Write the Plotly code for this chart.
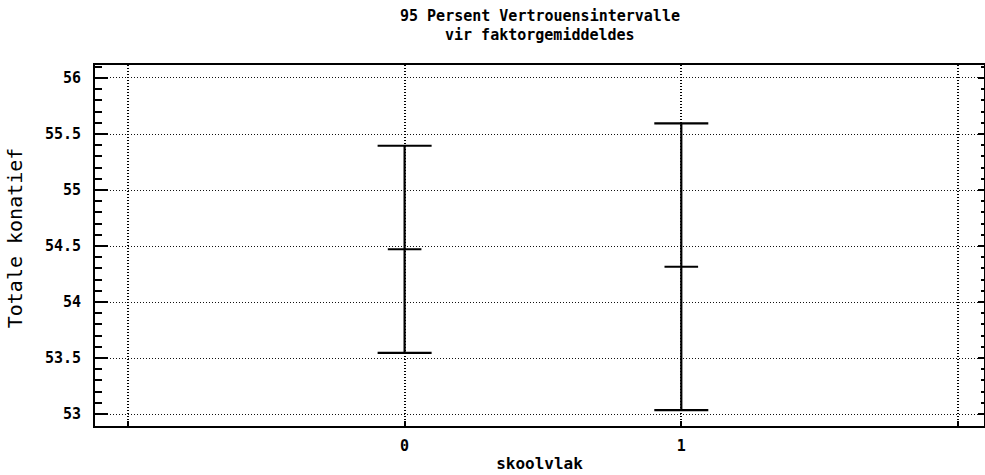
import plotly.graph_objects as go

# 95% confidence intervals of the factor means
groups = [0, 1]
group_labels = ["0", "1"]
means = [54.47, 54.315]
half_widths = [0.925, 1.28]

y_ticks = [53, 53.5, 54, 54.5, 55, 55.5, 56]
y_tick_labels = ["53", "53.5", "54", "54.5", "55", "55.5", "56"]

title_line1 = "95 Persent Vertrouensintervalle"
title_line2 = "vir faktorgemiddeldes"
x_title = "skoolvlak"
y_title = "Totale konatief"

mono = "DejaVu Sans Mono"
x_range = [-1.119, 2.094]
y_range = [52.893, 56.116]
fine_dots = "1px,2px"

fig = go.Figure()

fig.add_trace(go.Scatter(
    x=groups, y=means,
    mode="markers",
    marker=dict(symbol="line-ew", size=24, color="black",
                line=dict(width=2, color="black")),
    error_y=dict(type="data", array=half_widths, symmetric=True,
                 width=27, thickness=2.2, color="black"),
    showlegend=False, hoverinfo="skip",
))

# invisible trace so the right-hand axis is drawn
fig.add_trace(go.Scatter(x=[groups[0]], y=[means[0]], yaxis="y2",
                         mode="markers", marker=dict(opacity=0),
                         showlegend=False, hoverinfo="skip"))

fig.update_layout(
    width=985, height=475,
    margin=dict(l=95, r=1, t=65, b=49),
    paper_bgcolor="white", plot_bgcolor="white",
    font=dict(family=mono, color="black"),
    xaxis=dict(
        range=x_range,
        tickmode="array",
        tickvals=[-1] + groups + [2],
        ticktext=[""] + group_labels + [""],
        tickfont=dict(family=mono, size=15, weight="bold"),
        ticklabelstandoff=5,
        ticks="inside", ticklen=5, tickwidth=1.5, tickcolor="black",
        showline=True, linewidth=2, linecolor="black", mirror=True,
        showgrid=True, gridcolor="black", griddash=fine_dots, gridwidth=1.5,
        zeroline=False,
        title=dict(text=x_title, font=dict(family=mono, size=16, weight="bold"),
                   standoff=4),
    ),
    yaxis=dict(
        range=y_range,
        tickmode="array",
        tickvals=y_ticks,
        ticktext=y_tick_labels,
        tickfont=dict(family=mono, size=15, weight="bold"),
        ticklabelstandoff=9,
        ticks="inside", ticklen=13, tickwidth=2, tickcolor="black",
        minor=dict(dtick=0.1, ticks="inside", ticklen=7, tickwidth=1.5,
                   tickcolor="black", showgrid=False),
        showline=True, linewidth=2, linecolor="black",
        showgrid=True, gridcolor="#111", griddash=fine_dots, gridwidth=1,
        zeroline=False,
    ),
    yaxis2=dict(
        range=y_range, overlaying="y", side="right", anchor="x",
        tickmode="array", tickvals=y_ticks, showticklabels=False,
        ticks="inside", ticklen=6, tickwidth=2, tickcolor="black",
        minor=dict(dtick=0.1, ticks="inside", ticklen=3, tickwidth=1.5,
                   tickcolor="black", showgrid=False),
        showline=True, linewidth=2, linecolor="black",
        showgrid=False, zeroline=False,
    ),
)

# vertical axis title, placed near the left edge
fig.add_annotation(text=y_title, xref="paper", yref="paper",
                   x=(15 - 95) / 889, y=0.52, textangle=-90,
                   showarrow=False, xanchor="center", yanchor="middle",
                   font=dict(family=mono, size=20))

# two-line title
fig.add_annotation(text=title_line1, xref="paper", yref="paper",
                   x=0.5, y=1 + (65 - 16) / 361, showarrow=False,
                   xanchor="center", yanchor="middle",
                   font=dict(family=mono, size=15, weight="bold"))
fig.add_annotation(text=title_line2, xref="paper", yref="paper",
                   x=0.5, y=1 + (65 - 35) / 361, showarrow=False,
                   xanchor="center", yanchor="middle",
                   font=dict(family=mono, size=15, weight="bold"))

fig.write_html("out.html")
